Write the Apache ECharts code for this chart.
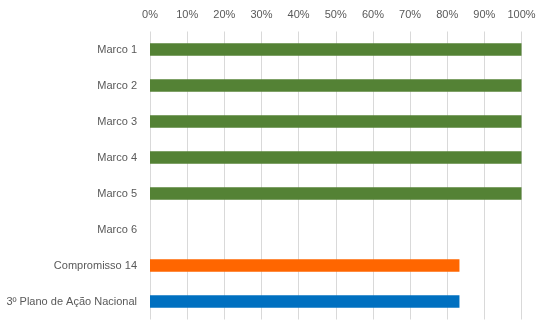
<!DOCTYPE html>
<html>
<head>
<meta charset="utf-8">
<script src="https://cdn.jsdelivr.net/npm/echarts@6/dist/echarts.min.js"></script>
<style>
  html, body { margin: 0; padding: 0; background: #fff; }
  #chart { width: 549px; height: 323px; }
</style>
</head>
<body>
<div id="chart"></div>
<script>
// Progresso por marco (percentual concluído)
const categories = ['Marco 1', 'Marco 2', 'Marco 3', 'Marco 4', 'Marco 5', 'Marco 6', 'Compromisso 14', '3º Plano de Ação Nacional'];
const progress = [100, 100, 100, 100, 100, 0, 83.3, 83.3];
const percentTicks = [0, 10, 20, 30, 40, 50, 60, 70, 80, 90, 100];

// Cor de cada barra, na mesma ordem das categorias
const barColors = ['#548235', '#548235', '#548235', '#548235', '#548235', '#548235', '#FF6600', '#0070C0'];

const chart = echarts.init(document.getElementById('chart'));
chart.setOption({
  animation: false,
  textStyle: { fontFamily: 'Liberation Sans' },
  grid: { left: 150, right: 27.5, top: 31.5, bottom: 3.5, containLabel: false },
  xAxis: {
    type: 'value',
    position: 'top',
    min: percentTicks[0],
    max: percentTicks[percentTicks.length - 1],
    interval: percentTicks[1] - percentTicks[0],
    axisLine: { show: false },
    axisTick: { show: false },
    axisLabel: { color: '#595959', fontSize: 11, margin: 11, formatter: '{value}%' },
    splitLine: { lineStyle: { color: '#d9d9d9', width: 1 } }
  },
  yAxis: {
    type: 'category',
    inverse: true,
    data: categories,
    axisLine: { show: false },
    axisTick: { show: false },
    axisLabel: { color: '#595959', fontSize: 11, margin: 13 }
  },
  series: [{
    type: 'bar',
    data: progress,
    barWidth: '35%',
    itemStyle: { color: p => barColors[p.dataIndex] }
  }]
});
</script>
</body>
</html>
